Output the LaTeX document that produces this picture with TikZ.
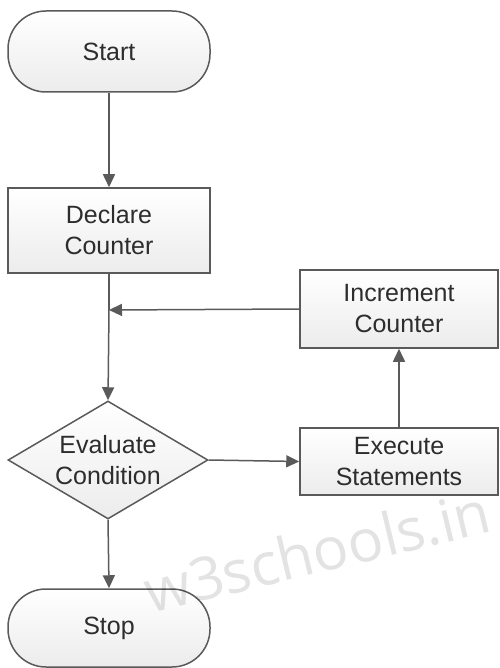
\documentclass[tikz,border=0pt]{standalone}
\usepackage{fontspec}
\setmainfont{Liberation Sans}
\newfontfamily\wmfont{Open Sans}
\usetikzlibrary{shapes.geometric,arrows.meta,calc}
\definecolor{lncol}{RGB}{90,90,90}
\definecolor{txcol}{RGB}{45,45,45}
\definecolor{fillbot}{RGB}{236,236,236}
\tikzset{
  base/.style={draw=lncol, line width=1.5pt, top color=white, bottom color=fillbot,
    text=txcol, align=center, inner sep=0pt,
    font=\fontsize{25}{31}\selectfont},
  term/.style={base, rounded corners=38pt, minimum width=202pt},
  procbox/.style={base, rectangle, minimum width=200pt},
  decision/.style={base, diamond, minimum width=200pt, minimum height=118pt},
  label/.style={text=txcol, align=center, inner sep=0pt, font=\fontsize{25}{31}\selectfont},
  conn/.style={draw=lncol, line width=1.5pt, -{Triangle[length=13pt,width=12pt]}},
  plain/.style={draw=lncol, line width=1.5pt}
}
\begin{document}
\begin{tikzpicture}[x=1pt,y=-1pt]
\useasboundingbox (0,0) rectangle (499,668);
% nodes
\node[term, minimum height=81pt] (start) at (109,51.5) {Start};
\node[procbox, minimum width=202pt, minimum height=85pt] (declare) at (109,230.5) {Declare\\Counter};
\node[procbox, minimum width=198pt, minimum height=78pt] (incr) at (399,309) {Increment\\Counter};
\node[decision] (eval) at (108,460) {};
\node[label] (evaltxt) at (eval.center) {Evaluate\\Condition};
\node[procbox, minimum width=198pt, minimum height=67pt] (exec) at (399,461.5) {Execute\\Statements};
\node[term, minimum height=78pt] (stop) at (109,628) {Stop};
\coordinate (merge) at (109,310);
% connectors
\draw[conn] (start) -- (declare);
\draw[plain] (declare.south) -- (merge);
\draw[conn] (merge) -- (eval.north);
\draw[conn] (incr.west) -- (merge);
\draw[conn] (eval.east) -- (exec.west);
\draw[conn] (exec.north) -- (incr.south);
\draw[conn] (eval.south) -- (stop.north);
% watermark
\node[text=black, text opacity=0.11, rotate=13.5, font=\wmfont\fontsize{59}{61}\selectfont, inner sep=0pt] (wm) at (317,551) {w3schools.in};
\end{tikzpicture}
\end{document}
